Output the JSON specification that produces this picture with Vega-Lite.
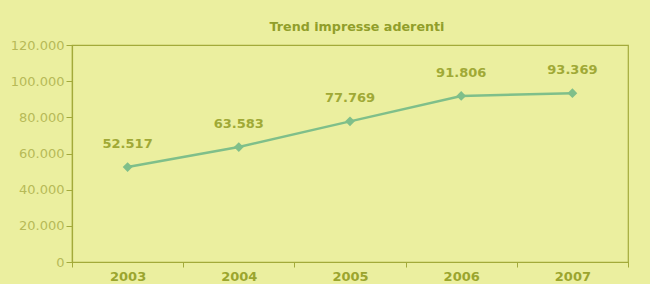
{
  "$schema": "https://vega.github.io/schema/vega-lite/v6.json",
  "autosize": "none",
  "width": 556,
  "height": 217,
  "padding": {"left": 72, "top": 45, "right": 22, "bottom": 22},
  "background": "#ebef9f",
  "config": {
    "locale": {"number": {"decimal": ",", "thousands": ".", "grouping": [3], "currency": ["€", ""]}},
    "view": {"stroke": "#a3aa3a", "strokeWidth": 1.2},
    "font": "DejaVu Sans"
  },
  "title": {
    "text": "Trend impresse aderenti",
    "font": "DejaVu Sans",
    "fontSize": 12.7,
    "fontWeight": "bold",
    "color": "#919e2a",
    "offset": 5,
    "dx": 7
  },
  "data": {
    "values": [
      {"anno": "2003", "imprese": 52517},
      {"anno": "2004", "imprese": 63583},
      {"anno": "2005", "imprese": 77769},
      {"anno": "2006", "imprese": 91806},
      {"anno": "2007", "imprese": 93369}
    ]
  },
  "encoding": {
    "x": {
      "field": "anno",
      "type": "ordinal",
      "scale": {"type": "band", "paddingInner": 0, "paddingOuter": 0},
      "axis": {
        "title": null,
        "labelAngle": 0,
        "labelFont": "DejaVu Sans",
        "labelFontSize": 13,
        "labelFontWeight": "bold",
        "labelColor": "#9ba52e",
        "labelPadding": 3,
        "tickBand": "extent",
        "tickColor": "#a3aa3a",
        "tickSize": 5,
        "domainColor": "#a3aa3a",
        "domainWidth": 1.2
      }
    },
    "y": {
      "field": "imprese",
      "type": "quantitative",
      "scale": {"domain": [0, 120000], "nice": false},
      "axis": {
        "title": null,
        "values": [0, 20000, 40000, 60000, 80000, 100000, 120000],
        "format": ",d",
        "grid": false,
        "labelFont": "DejaVu Sans",
        "labelFontSize": 13,
        "labelColor": "#b7ba57",
        "labelPadding": 2,
        "tickColor": "#a3aa3a",
        "tickSize": 6,
        "domainColor": "#a3aa3a",
        "domainWidth": 1.2
      }
    }
  },
  "layer": [
    {
      "mark": {"type": "line", "color": "#7fbf8a", "strokeWidth": 2.5}
    },
    {
      "mark": {"type": "point", "shape": "diamond", "filled": true, "color": "#7fbf8a", "size": 95, "opacity": 1}
    },
    {
      "mark": {"type": "text", "dy": -23, "font": "DejaVu Sans", "fontSize": 13, "fontWeight": "bold", "color": "#a0a936"},
      "encoding": {"text": {"field": "imprese", "type": "quantitative", "format": ",d"}}
    }
  ]
}
